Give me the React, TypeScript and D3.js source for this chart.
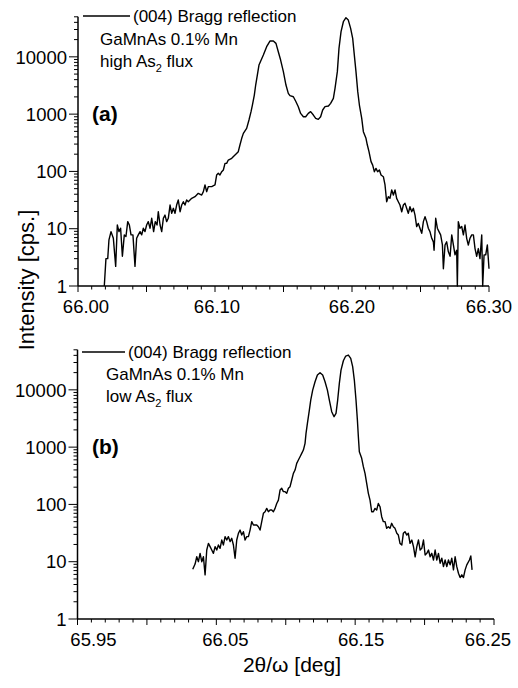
import React from "react";
import * as d3 from "d3";

// ---------- data ----------
const twoThetaA = [
  66.0192, 66.0204, 66.0217, 66.0226, 66.0241, 66.0258, 66.0275, 66.0287, 66.0299, 66.0311,
  66.0324, 66.0338, 66.035, 66.0363, 66.0375, 66.0387, 66.0401, 66.0416, 66.0428, 66.044,
  66.0453, 66.0465, 66.0477, 66.0489, 66.0501, 66.0513, 66.0526, 66.0538, 66.0552, 66.0564,
  66.0577, 66.0586, 66.0599, 66.0611, 66.0623, 66.0635, 66.0647, 66.0659, 66.0672, 66.0684,
  66.0696, 66.0708, 66.072, 66.0732, 66.0745, 66.0757, 66.0769, 66.0781, 66.0793, 66.0805,
  66.083, 66.0854, 66.0878, 66.0903, 66.0915, 66.0927, 66.0939, 66.0951, 66.0976, 66.1,
  66.1012, 66.1024, 66.1036, 66.1049, 66.1061, 66.1073, 66.1085, 66.1097, 66.1122, 66.1146,
  66.117, 66.1182, 66.1195, 66.1207, 66.1231, 66.1248, 66.1263, 66.1273, 66.1287, 66.1297,
  66.1309, 66.1321, 66.1353, 66.1377, 66.1401, 66.1426, 66.1445, 66.1462, 66.1479, 66.1499,
  66.1518, 66.1535, 66.1547, 66.1572, 66.1591, 66.1608, 66.1625, 66.1645, 66.1662, 66.1681,
  66.1698, 66.1718, 66.1735, 66.1754, 66.1771, 66.1786, 66.1803, 66.1828, 66.1844, 66.1864,
  66.1876, 66.1893, 66.1905, 66.192, 66.1937, 66.1956, 66.1973, 66.199, 66.2005, 66.2017,
  66.2029, 66.2042, 66.2054, 66.2071, 66.2083, 66.2102, 66.2112, 66.2124, 66.2139, 66.2151,
  66.2163, 66.2175, 66.2187, 66.22, 66.2212, 66.2229, 66.2241, 66.2253, 66.2265, 66.2277,
  66.229, 66.2302, 66.2314, 66.2326, 66.2338, 66.235, 66.2363, 66.2375, 66.2387, 66.2399,
  66.2411, 66.2423, 66.2436, 66.2448, 66.246, 66.2472, 66.2484, 66.2496, 66.2509, 66.2521,
  66.2533, 66.2545, 66.2557, 66.2569, 66.2582, 66.2594, 66.2599, 66.2611, 66.2623, 66.2635,
  66.2647, 66.266, 66.2667, 66.2679, 66.2691, 66.2703, 66.2716, 66.2728, 66.274, 66.2752,
  66.2764, 66.2769, 66.2776, 66.2788, 66.2801, 66.2813, 66.2825, 66.2837, 66.2849, 66.2861,
  66.2874, 66.2886, 66.2898, 66.291, 66.2922, 66.2934, 66.2947, 66.2954, 66.2964, 66.2976,
  66.2988, 66.3,
];
const intensityA = [
  1, 3, 3, 6.4, 8.9, 6.8, 2.2, 11.6, 8.9, 10.2,
  3.3, 7.8, 7.3, 13.3, 11.6, 7.8, 7.8, 2.2, 6.8, 7.8,
  8.9, 7.8, 10.2, 8.9, 11.6, 13.3, 10.2, 15.2, 8.9, 13.3,
  11.6, 19.8, 11.6, 8.9, 15.2, 17.3, 13.3, 15.2, 25.9, 18.5,
  22.7, 18.5, 25.9, 31.7, 19.8, 25.9, 29.6, 25.9, 31.7, 29.6,
  33.9, 36.2, 41.4, 38.7, 44.3, 58, 44.3, 54.2, 54.2, 58,
  86.5, 92.5, 86.5, 98.9, 106, 138, 138, 158, 169, 193,
  221, 289, 378, 461, 565, 789, 1104, 1442, 2153, 3221,
  4808, 7194, 10740, 15030, 18880, 18880, 17180, 12300, 8790, 5510,
  3221, 2300, 2099, 2014, 1648, 1349, 1030, 902, 902, 1030,
  1104, 964, 843, 811, 902, 1180, 1349, 1384, 1542, 1884,
  2818, 5510, 14060, 27480, 41020, 48190, 43850, 31400, 21000, 10740,
  5510, 2466, 1442, 843, 494, 378, 289, 221, 148, 129,
  98.9, 113, 98.9, 106, 86.5, 80.9, 58, 29.6, 36.2, 33.9,
  47.4, 38.7, 47.4, 33.9, 29.6, 25.9, 19.8, 25.9, 27.7, 22.7,
  18.5, 24.3, 19.8, 22.7, 17.3, 10.9, 12.4, 10.2, 8.3, 13.3,
  16.2, 13.3, 10.2, 8.9, 6.8, 5.9, 4.2, 15.2, 10.2, 8.9,
  7.8, 5.2, 2.0, 5.2, 5.9, 4.0, 3.3, 7.8, 5.2, 3.5,
  4.2, 1.0, 13.3, 10.2, 10.9, 7.8, 11.6, 6.8, 5.2, 6.8,
  7.8, 7.8, 4.5, 3.3, 4.5, 3.0, 7.8, 1.0, 3.5, 3.5,
  5.2, 2.0,
];

const twoThetaB = [
  66.033, 66.0347, 66.0359, 66.0371, 66.0383, 66.0395, 66.0407, 66.0419, 66.0431, 66.0443,
  66.0455, 66.0467, 66.0479, 66.0491, 66.0503, 66.0515, 66.0527, 66.0539, 66.0551, 66.0563,
  66.0575, 66.0587, 66.0599, 66.0611, 66.0623, 66.0635, 66.0647, 66.0659, 66.0671, 66.0683,
  66.0695, 66.0707, 66.0719, 66.0731, 66.0743, 66.0755, 66.0767, 66.0779, 66.0791, 66.0803,
  66.0815, 66.0827, 66.0839, 66.0851, 66.0863, 66.0875, 66.0887, 66.0899, 66.0911, 66.0923,
  66.0935, 66.0947, 66.0959, 66.0971, 66.0983, 66.0995, 66.1007, 66.1019, 66.1031, 66.1043,
  66.1055, 66.1067, 66.1079, 66.1091, 66.1103, 66.1115, 66.1127, 66.1139, 66.1146, 66.1156,
  66.117, 66.118, 66.1194, 66.1211, 66.1228, 66.1247, 66.1266, 66.1283, 66.13, 66.1314,
  66.1331, 66.1348, 66.1362, 66.1374, 66.1386, 66.1398, 66.1415, 66.1432, 66.1451, 66.1468,
  66.1482, 66.1494, 66.1506, 66.1516, 66.1523, 66.153, 66.1547, 66.1559, 66.1571, 66.1583,
  66.1595, 66.1607, 66.1619, 66.1631, 66.1643, 66.1655, 66.1667, 66.1679, 66.1691, 66.1703,
  66.1715, 66.1727, 66.1739, 66.1751, 66.1763, 66.1775, 66.1787, 66.18, 66.1811, 66.1823,
  66.1836, 66.1847, 66.1859, 66.1872, 66.1883, 66.1895, 66.1908, 66.192, 66.1932, 66.1944,
  66.1956, 66.1968, 66.198, 66.1992, 66.2004, 66.2016, 66.2028, 66.204, 66.2052, 66.2064,
  66.2076, 66.2088, 66.21, 66.2112, 66.2124, 66.2136, 66.2148, 66.216, 66.2172, 66.2184,
  66.2196, 66.2208, 66.222, 66.2232, 66.2244, 66.2256, 66.2268, 66.228, 66.2292, 66.2304,
  66.2323, 66.2333, 66.2342,
];
const intensityB = [
  7.4, 9.1, 12.2, 10.0, 14.0, 10.0, 12.2, 5.9, 16.0, 20.9,
  18.3, 16.0, 14.0, 18.3, 16.0, 19.6, 17.1, 23.9, 19.6, 27.4,
  23.9, 27.4, 22.4, 25.6, 19.6, 11.5, 23.9, 31.3, 35.7, 29.2,
  33.4, 23.9, 27.4, 27.4, 35.7, 50.0, 43.8, 43.8, 43.8, 40.8,
  35.7, 50.0, 69.8, 74.6, 85.3, 74.6, 79.8, 79.8, 74.6, 85.3,
  104, 119, 178, 191, 167, 167, 156, 191, 204, 267,
  348, 398, 521, 596, 681, 778, 889, 1164, 1738, 2600,
  4436, 6637, 9910, 13870, 18110, 19910, 18110, 13870, 9910, 6637,
  4150, 3396, 3882, 6637, 12970, 22130, 32210, 38900, 40460, 35400,
  25350, 14830, 6637, 2972, 1521, 832, 637, 456, 348, 233,
  156, 119, 74.6, 74.6, 85.3, 79.8, 104, 91.2, 61.1, 50.0,
  50.0, 38.2, 40.8, 38.2, 46.8, 40.8, 38.2, 31.3, 29.2, 20.9,
  19.6, 31.3, 33.4, 29.2, 31.3, 20.9, 23.9, 18.3, 12.2, 18.3,
  23.9, 16.0, 17.1, 23.9, 13.1, 14.0, 16.0, 12.2, 14.0, 10.7,
  16.0, 10.7, 14.0, 9.4, 11.5, 8.2, 10.7, 8.2, 10.7, 8.8,
  11.5, 7.2, 12.2, 8.2, 6.3, 5.3, 5.9, 5.3, 7.2, 8.8,
  10.7, 12.6, 7.2,
];

const yTickLabels = ["1", "10", "100", "1000", "10000"];
const xTickLabelsA = ["66.00", "66.10", "66.20", "66.30"];
const xTickLabelsB = ["65.95", "66.05", "66.15", "66.25"];
const legendLines = ["(004) Bragg reflection", "GaMnAs 0.1% Mn"];
const fluxA = "high";
const fluxB = "low";

const FONT = "'Liberation Sans', Arial, sans-serif";

type PanelProps = {
  xs: number[];
  ys: number[];
  xDomain: [number, number];
  xRange: [number, number];
  yRange: [number, number];
  xLabels: string[];
  labelNudge: number[];
  flux: string;
  letter: string;
  leg: { lx1: number; lx2: number; ly: number; tx1: number; tx2: number; b1: number; b2: number; b3: number; letterY: number };
};

function Panel({ xs, ys, xDomain, xRange, yRange, xLabels, labelNudge, flux, letter, leg }: PanelProps) {
  const x = d3.scaleLinear().domain(xDomain).range(xRange);
  const y = d3.scaleLog().domain([1, 50000]).range(yRange);
  const pts = xs.map((v, i) => [v, ys[i]] as [number, number]);
  const line = d3
    .line<[number, number]>()
    .x((d) => x(d[0]))
    .y((d) => y(d[1]));

  const x0 = xRange[0];
  const yBase = yRange[0];
  const yTicks = y.ticks();
  const xTicks = d3.range(0, 31).map((i) => xDomain[0] + i * 0.01);

  return (
    <g>
      <path d={line(pts) || ""} fill="none" stroke="#000" strokeWidth={1.4} strokeLinejoin="round" />
      <line x1={x0} x2={x0} y1={yRange[1]} y2={yBase} stroke="#000" strokeWidth={1.5} />
      {yTicks.map((t, i) => {
        const major = Math.abs(Math.log10(t) - Math.round(Math.log10(t))) < 1e-6;
        return (
          <line key={"yt" + i} x1={x0 - (major ? 9 : 4)} x2={x0} y1={y(t)} y2={y(t)} stroke="#000" strokeWidth={1} />
        );
      })}
      {yTickLabels.map((lab, i) => (
        <text key={"yl" + i} x={x0 - 11} y={y(+lab)} dy="0.36em" textAnchor="end" fontSize={18.5} fontFamily={FONT}>
          {lab}
        </text>
      ))}
      <line x1={x0} x2={xRange[1]} y1={yBase} y2={yBase} stroke="#000" strokeWidth={1.5} />
      {xTicks.map((t, i) => {
        const major = i % 5 === 0;
        return (
          <line key={"xt" + i} x1={x(t)} x2={x(t)} y1={yBase} y2={yBase + (major ? 6 : 3.5)} stroke="#000" strokeWidth={1} />
        );
      })}
      {xLabels.map((lab, i) => (
        <text key={"xl" + i} x={x(+lab) + labelNudge[i]} y={yBase + 27} textAnchor="middle" fontSize={18.5} fontFamily={FONT}>
          {lab}
        </text>
      ))}
      <line x1={leg.lx1} x2={leg.lx2} y1={leg.ly} y2={leg.ly} stroke="#000" strokeWidth={1.4} />
      <text x={leg.tx1} y={leg.b1} fontSize={17} fontFamily={FONT}>{legendLines[0]}</text>
      <text x={leg.tx2} y={leg.b2} fontSize={17} fontFamily={FONT}>{legendLines[1]}</text>
      <text x={leg.tx2} y={leg.b3} fontSize={17} fontFamily={FONT}>
        {flux} As
        <tspan fontSize={11} dy={5}>2</tspan>
        <tspan dy={-5}> flux</tspan>
      </text>
      <text x={92} y={leg.letterY} fontSize={21} fontWeight="bold" fontFamily={FONT}>
        {letter}
      </text>
    </g>
  );
}

export default function App() {
  return (
    <svg width={518} height={688} style={{ position: "absolute", left: 0, top: 0, background: "#fff" }}>
      <rect width={518} height={688} fill="#fff" />
      <Panel
        xs={twoThetaA}
        ys={intensityA}
        xDomain={[66.0, 66.3]}
        xRange={[78, 489]}
        yRange={[286, 16.8]}
        xLabels={xTickLabelsA}
        labelNudge={[8, 2, 0, 0]}
        flux={fluxA}
        letter="(a)"
        leg={{ lx1: 83, lx2: 130, ly: 16, tx1: 133, tx2: 100, b1: 22, b2: 45, b3: 67, letterY: 121 }}
      />
      <Panel
        xs={twoThetaB}
        ys={intensityB}
        xDomain={[65.95, 66.25]}
        xRange={[77.5, 494]}
        yRange={[619, 349.8]}
        xLabels={xTickLabelsB}
        labelNudge={[16, 9, 6, -6]}
        flux={fluxB}
        letter="(b)"
        leg={{ lx1: 82, lx2: 125, ly: 352, tx1: 128, tx2: 106, b1: 358, b2: 380, b3: 402, letterY: 454 }}
      />
      <text transform="translate(34,280) rotate(-90)" textAnchor="middle" fontSize={22} fontFamily={FONT}>
        Intensity [cps.]
      </text>
      <text x={292} y={672} textAnchor="middle" fontSize={21} fontFamily={FONT}>
        2θ/ω [deg]
      </text>
    </svg>
  );
}
